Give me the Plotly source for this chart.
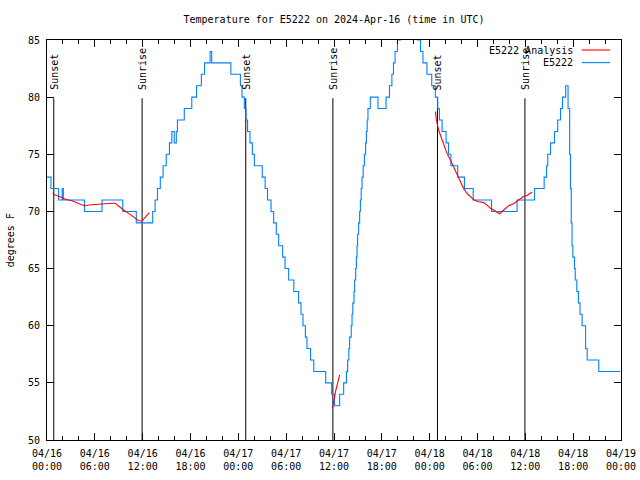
import plotly.graph_objects as go

# ---------------- data (time in hours since 2024-04-16 00:00 UTC) ----------------
obs_hours = [0.0, 0.5, 1.46, 1.9, 2.05, 4.7, 6.9, 9.5, 11.2,
             13.26, 13.56, 13.86, 14.21, 14.56, 14.96, 15.36, 15.66, 15.96, 16.22, 16.36,
             17.22, 18.16, 18.76, 19.36, 19.76, 20.46, 20.66, 23.06, 24.26, 24.46,
             24.76, 24.96, 25.16, 25.46, 25.76, 26.01, 27.0, 27.36, 27.66, 28.1,
             28.43, 28.76, 29.06, 29.56, 29.86, 30.31, 30.96, 31.56, 31.86, 32.11,
             32.41, 32.61, 33.06, 33.46, 34.96, 35.71, 36.06, 36.71, 37.21, 37.56,
             37.71, 37.86, 37.96, 38.16, 38.26, 38.36, 38.51, 38.59, 38.72, 38.81,
             38.89, 38.96, 39.09, 39.22, 39.31, 39.41, 39.52, 39.66, 39.81, 39.96,
             40.06, 40.16, 40.26, 40.56, 41.52, 42.53, 42.96, 43.26, 43.46, 43.66,
             43.96, 44.36, 44.96, 45.96, 46.46, 46.86, 47.16, 47.66, 48.26, 48.71,
             49.01, 49.22, 49.56, 50.06, 50.36, 50.66, 51.52, 52.36, 53.46, 55.76,
             58.96, 61.16, 62.36, 62.66, 62.81, 63.16, 63.66, 64.06, 64.41, 64.66,
             65.06, 65.36, 65.56, 65.66, 65.76, 65.86, 65.96, 66.16, 66.26, 66.46,
             66.66, 66.86, 67.12, 67.56, 67.76, 69.21, 71.93]
obs_temps = [73, 72, 71, 72, 71, 70, 71, 70, 69,
             70, 71, 72, 73, 74, 75, 76, 77, 76, 77, 78,
             79, 80, 81, 82, 83, 84, 83, 82, 81, 80,
             79, 78, 77, 76, 75, 74, 73, 72, 71, 70,
             69, 68, 67, 66, 65, 64, 63, 62, 61, 60,
             59, 58, 57, 56, 55, 54, 53, 54, 55, 56,
             57, 58, 59, 60, 61, 62, 63, 64, 65, 66,
             67, 68, 69, 70, 71, 72, 73, 74, 75, 76,
             77, 78, 79, 80, 79, 80, 81, 82, 83, 84,
             85, 86, 87, 86, 85, 84, 83, 82, 81, 80,
             79, 78, 77, 76, 75, 74, 73, 72, 71, 70,
             71, 72, 73, 74, 75, 76, 77, 78, 79, 80,
             81, 79, 75, 72, 69, 67, 66, 65, 64, 63,
             62, 61, 60, 58, 57, 56, 56]

ana1_hours = [0.7, 1.04, 1.66, 2.29, 3.13, 3.76, 4.16, 4.72, 5.22, 6.06, 6.86,
              8.16, 8.56, 8.96, 9.61, 10.24, 10.86, 11.49, 11.91, 12.33, 12.83]
ana1_temps = [71.58, 71.44, 71.29, 71.06, 70.94, 70.77, 70.65, 70.48, 70.56, 70.62, 70.65,
              70.71, 70.71, 70.48, 70.13, 69.83, 69.48, 69.19, 69.16, 69.48, 69.89]
ana2_hours = [35.81, 36.01, 36.21, 36.46, 36.71]
ana2_temps = [52.8, 53.6, 54.3, 55.0, 55.7]
ana3_hours = [48.72, 48.84, 49.13, 49.76, 50.16, 50.6, 51.02, 51.44, 51.86, 52.26, 52.66,
              53.11, 53.56, 54.16, 54.76, 55.16, 55.62, 56.06, 56.76, 57.26, 57.91,
              58.56, 59.16, 59.76, 60.22, 60.86]
ana3_temps = [78.73, 78.0, 77.1, 75.8, 75.1, 74.5, 73.9, 73.3, 72.6, 72.0, 71.6,
              71.3, 71.0, 70.85, 70.77, 70.57, 70.27, 70.1, 69.8, 70.1, 70.5,
              70.7, 71.0, 71.3, 71.4, 71.7]

event_hours = [0.85, 11.93, 24.93, 35.86, 48.98, 59.95]
event_labels = ["Sunset", "Sunrise", "Sunset", "Sunrise", "Sunset", "Sunrise"]

x_tick_vals = [0, 6, 12, 18, 24, 30, 36, 42, 48, 54, 60, 66, 72]
x_tick_text = ["04/16<br>00:00", "04/16<br>06:00", "04/16<br>12:00", "04/16<br>18:00",
               "04/17<br>00:00", "04/17<br>06:00", "04/17<br>12:00", "04/17<br>18:00",
               "04/18<br>00:00", "04/18<br>06:00", "04/18<br>12:00", "04/18<br>18:00",
               "04/19<br>00:00"]
y_tick_vals = [50, 55, 60, 65, 70, 75, 80, 85]

title_text = "Temperature for E5222 on 2024-Apr-16 (time in UTC)"
series_names = ["E5222 Analysis", "E5222"]

# ---------------- figure ----------------
FONT = "DejaVu Sans Mono"
RED = "#ff0000"
BLUE = "#0080ff"
EV_TOP = 79.9

fig = go.Figure()

# sunrise / sunset vertical lines
ev_x, ev_y = [], []
for h in event_hours:
    ev_x += [h, h, None]
    ev_y += [50, EV_TOP, None]
fig.add_trace(go.Scatter(x=ev_x, y=ev_y, mode="lines",
                         line=dict(color="black", width=1), hoverinfo="skip"))

fig.add_trace(go.Scatter(x=obs_hours, y=obs_temps, mode="lines", name=series_names[1],
                         line=dict(color=BLUE, width=1.1, shape="hv")))
for hx, ty in [(ana1_hours, ana1_temps), (ana2_hours, ana2_temps), (ana3_hours, ana3_temps)]:
    fig.add_trace(go.Scatter(x=hx, y=ty, mode="lines", name=series_names[0],
                             line=dict(color=RED, width=1.1)))

annotations = []
for h, lab in zip(event_hours, event_labels):
    annotations.append(dict(x=h, y=80.45, xref="x", yref="y", text=lab, textangle=-90,
                            showarrow=False, xanchor="center", yanchor="bottom",
                            font=dict(family=FONT, size=10, color="black")))

# manual gnuplot-style key
key_rows = [(series_names[0], RED, 0.975), (series_names[1], BLUE, 0.9435)]
shapes = []
for name, col, yy in key_rows:
    annotations.append(dict(x=0.919, y=yy, xref="paper", yref="paper", text=name,
                            showarrow=False, xanchor="right", yanchor="middle",
                            font=dict(family=FONT, size=10, color="black")))
    shapes.append(dict(type="line", xref="paper", yref="paper", x0=0.9316, x1=0.9808,
                       y0=yy, y1=yy, line=dict(color=col, width=1.1)))

# y-axis title
annotations.append(dict(x=-0.064, y=0.5, xref="paper", yref="paper", text="degrees F",
                        textangle=-90, showarrow=False, xanchor="center", yanchor="middle",
                        font=dict(family=FONT, size=10, color="black")))

fig.update_layout(
    width=640, height=480, autosize=False,
    margin=dict(l=47, r=19, t=40, b=40, autoexpand=False),
    paper_bgcolor="white", plot_bgcolor="white",
    showlegend=False,
    font=dict(family=FONT, size=10, color="black"),
    title=dict(text=title_text, x=0.5, xref="paper", xanchor="center",
               y=0.96, yref="container", yanchor="middle",
               font=dict(family=FONT, size=10, color="black")),
    annotations=annotations,
    shapes=shapes,
)
fig.update_xaxes(range=[0, 72], tickvals=x_tick_vals, ticktext=x_tick_text,
                 automargin=False, ticklabelstandoff=4,
                 ticks="inside", ticklen=7, tickcolor="black", tickwidth=1,
                 minor=dict(dtick=2, tick0=0, ticks="inside", ticklen=4,
                            tickcolor="black", showgrid=False),
                 showline=True, linecolor="black", linewidth=1, mirror="allticks",
                 showgrid=False, zeroline=False, tickfont=dict(family=FONT, size=10))
fig.update_yaxes(range=[50, 85], tickvals=y_tick_vals, automargin=False,
                 ticklabelstandoff=4,
                 ticks="inside", ticklen=7, tickcolor="black", tickwidth=1,
                 showline=True, linecolor="black", linewidth=1, mirror="allticks",
                 showgrid=False, zeroline=False, tickfont=dict(family=FONT, size=10))

fig.write_html("out.html", config={"displayModeBar": False},
               post_script="document.body.style.margin='0';")
